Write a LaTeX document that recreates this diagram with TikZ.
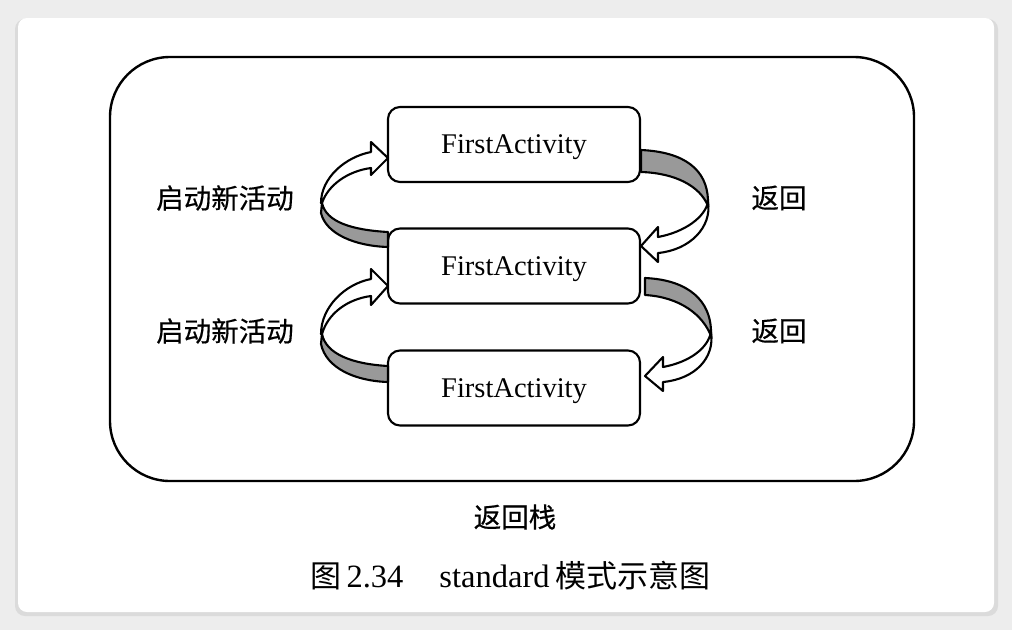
\documentclass[tikz,border=0pt]{standalone}
\usepackage{fontspec}
\setmainfont{Liberation Serif}
\newfontfamily\cjk[FakeBold=0.4]{Noto Sans CJK SC}
\newfontfamily\cjkcap{Noto Sans CJK SC}
\begin{document}
\begin{tikzpicture}[x=1pt,y=-1pt,
  actbox/.style={draw=black,line width=2.1pt,rounded corners=12pt,minimum width=252pt,minimum height=75pt,inner sep=0pt,font=\fontsize{28.5}{30}\selectfont,fill=white,text depth=0pt},
  cjklabel/.style={font=\cjk\fontsize{27.5}{30}\selectfont,inner sep=0pt},
  ribbonwhite/.style={draw=black,line width=2.1pt,fill=white,line join=round},
  ribbongray/.style={draw=black,line width=2.1pt,fill=black!40,line join=round}]
\useasboundingbox (0,0) rectangle (1012,630);
\fill[black!7] (0,0) rectangle (1012,630);
\fill[black!14,rounded corners=10pt] (15,19) rectangle (998,616);
\fill[white,rounded corners=9pt] (18,18) rectangle (994,612);
% outer stack frame
\draw[line width=2.4pt,rounded corners=60pt] (110,57) rectangle (914,481);
% boxes
\node[actbox] (b1) at (514,144.5) {FirstActivity};
\node[actbox] (b2) at (514,266) {FirstActivity};
\node[actbox] (b3) at (514,388) {FirstActivity};
% left top ribbon (b2 -> b1)
\draw[ribbongray] (322,203) .. controls (326,222) and (352,230) .. (388,232) -- (388,247) .. controls (355,246) and (326,234) .. (321,213) -- cycle;
\draw[ribbonwhite] (321,203) .. controls (321,178) and (345,157) .. (371,152) -- (371,142) -- (388,158) -- (371,175) -- (371,168) .. controls (348,171) and (328,185) .. (322,203) -- cycle;
% left bottom ribbon (b3 -> b2)
\draw[ribbongray] (322,334) .. controls (326,354) and (352,364) .. (388,366) -- (388,382) .. controls (355,381) and (326,368) .. (321,344) -- cycle;
\draw[ribbonwhite] (321,334) .. controls (321,307) and (345,284) .. (371,279) -- (371,269) -- (388,286) -- (371,305) -- (371,296) .. controls (348,299) and (328,313) .. (322,334) -- cycle;
% right top ribbon (b1 -> b2)
\draw[ribbongray] (641,150) .. controls (685,152) and (707,170) .. (708,200) -- (708,206) .. controls (700,186) and (675,173) .. (641,172) -- cycle;
\draw[ribbonwhite] (708,202) .. controls (712,227) and (690,250) .. (658,253) -- (658,262) -- (641,246) -- (658,227) -- (658,237) .. controls (685,232) and (705,217) .. (708,202) -- cycle;
% right bottom ribbon (b2 -> b3)
\draw[ribbongray] (645,278) .. controls (690,280) and (710,302) .. (711,330) -- (711,336) .. controls (703,315) and (680,297) .. (645,295) -- cycle;
\draw[ribbonwhite] (711,332) .. controls (715,358) and (695,379) .. (663,382) -- (663,391) -- (645,376) -- (663,357) -- (663,367) .. controls (690,362) and (708,348) .. (711,332) -- cycle;
% labels
\node[cjklabel] (l1) at (225,198) {启动新活动};
\node[cjklabel] (l2) at (225,331) {启动新活动};
\node[cjklabel] (r1) at (779,198) {返回};
\node[cjklabel] (r2) at (779,331) {返回};
\node[cjklabel] (stack) at (515,517) {返回栈};
\node[inner sep=0pt,anchor=base west,font=\fontsize{32.5}{34}\selectfont] (cap) at (310,587) {{\cjkcap\fontsize{31}{34}\selectfont 图}\,2.34\hspace{36pt}standard\,{\cjkcap\fontsize{31}{34}\selectfont 模式示意图}};
\end{tikzpicture}
\end{document}
